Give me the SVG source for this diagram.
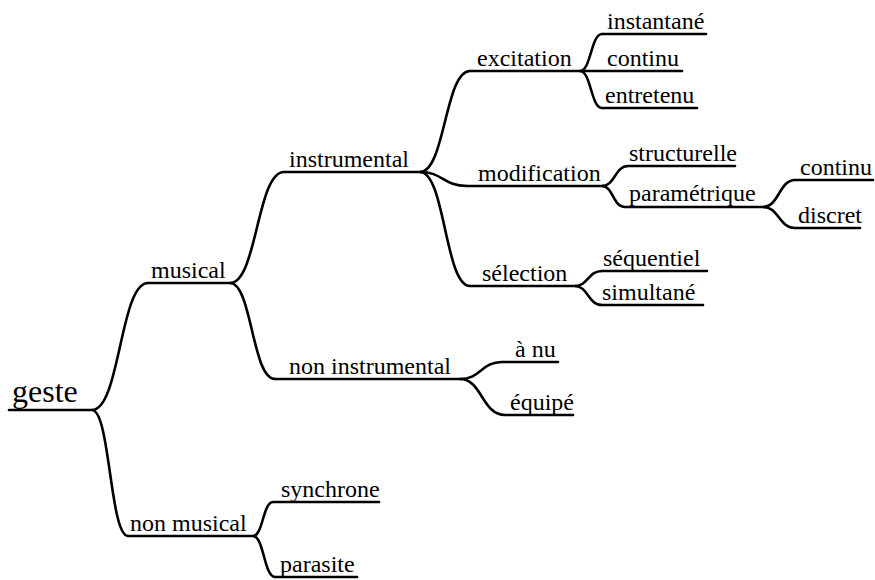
<svg xmlns="http://www.w3.org/2000/svg" width="875" height="580" viewBox="0 0 875 580">
<style>
.u{stroke:#000;stroke-width:2.6;fill:none;stroke-linecap:round}
.c{stroke:#000;stroke-width:2.6;fill:none}
</style>
<rect width="875" height="580" fill="#fff"/>
<g id="connectors">
<path class="c" d="M92 410 C120 410 120 283 148 283"/>
<path class="c" d="M92 410 C110 410 110 536 128 536"/>
<path class="c" d="M230 283 C257 283 257 172 284 172"/>
<path class="c" d="M230 283 C252 283 252 379 275 379"/>
<path class="c" d="M253 536 C263 536 263 502 273 502"/>
<path class="c" d="M253 536 C264 536 264 577 275 577"/>
<path class="c" d="M420 172 C445 172 445 71 470 71"/>
<path class="c" d="M420 172 C443 172 443 186 467 186"/>
<path class="c" d="M420 172 C445 172 445 286 470 286"/>
<path class="c" d="M580 71 C591 71 591 34 602 34"/>
<path class="c" d="M580 71 C591 71 591 108 602 108"/>
<path class="c" d="M602 186 C615 186 615 166 628 166"/>
<path class="c" d="M602 186 C613 186 613 207 625 207"/>
<path class="c" d="M763 207 C779 207 779 180 795 180"/>
<path class="c" d="M763 207 C779 207 779 228 795 228"/>
<path class="c" d="M575 286 C588 286 588 271 602 271"/>
<path class="c" d="M575 286 C588 286 588 305 602 305"/>
<path class="c" d="M460 379 C481 379 481 362 502 362"/>
<path class="c" d="M460 379 C482 379 482 415 505 415"/>
</g>
<g font-family="Liberation Serif, serif" font-size="24" fill="#000">
<g id="geste"><line class="u" x1="9" y1="410" x2="92" y2="410"/><text x="12" y="402" font-size="32">geste</text></g>
<g id="musical"><line class="u" x1="148" y1="283" x2="230" y2="283"/><text x="151" y="278">musical</text></g>
<g id="non-musical"><line class="u" x1="128" y1="536" x2="253" y2="536"/><text x="130" y="531">non musical</text></g>
<g id="instrumental"><line class="u" x1="284" y1="172" x2="420" y2="172"/><text x="289" y="167">instrumental</text></g>
<g id="non-instrumental"><line class="u" x1="275" y1="379" x2="460" y2="379"/><text x="289" y="374">non instrumental</text></g>
<g id="excitation"><line class="u" x1="470" y1="71" x2="580" y2="71"/><text x="477" y="66">excitation</text></g>
<g id="modification"><line class="u" x1="467" y1="186" x2="602" y2="186"/><text x="478" y="181">modification</text></g>
<g id="selection"><line class="u" x1="470" y1="286" x2="575" y2="286"/><text x="482" y="281">sélection</text></g>
<g id="instantane"><line class="u" x1="602" y1="34" x2="706" y2="34"/><text x="607" y="29">instantané</text></g>
<g id="continu"><line class="u" x1="580" y1="71" x2="682" y2="71"/><text x="607" y="66">continu</text></g>
<g id="entretenu"><line class="u" x1="602" y1="108" x2="697" y2="108"/><text x="605" y="103">entretenu</text></g>
<g id="structurelle"><line class="u" x1="628" y1="166" x2="735" y2="166"/><text x="629" y="161">structurelle</text></g>
<g id="parametrique"><line class="u" x1="625" y1="207" x2="763" y2="207"/><text x="629" y="201">paramétrique</text></g>
<g id="continu-2"><line class="u" x1="795" y1="180" x2="873" y2="180"/><text x="800" y="175">continu</text></g>
<g id="discret"><line class="u" x1="795" y1="228" x2="860" y2="228"/><text x="798" y="223">discret</text></g>
<g id="sequentiel"><line class="u" x1="602" y1="271" x2="707" y2="271"/><text x="603" y="266">séquentiel</text></g>
<g id="simultane"><line class="u" x1="602" y1="305" x2="703" y2="305"/><text x="602" y="300">simultané</text></g>
<g id="a-nu"><line class="u" x1="502" y1="362" x2="558" y2="362"/><text x="515" y="357">à nu</text></g>
<g id="equipe"><line class="u" x1="505" y1="415" x2="573" y2="415"/><text x="510" y="410">équipé</text></g>
<g id="synchrone"><line class="u" x1="273" y1="502" x2="379" y2="502"/><text x="281" y="497">synchrone</text></g>
<g id="parasite"><line class="u" x1="275" y1="577" x2="357" y2="577"/><text x="280" y="572">parasite</text></g>
</g>
</svg>
